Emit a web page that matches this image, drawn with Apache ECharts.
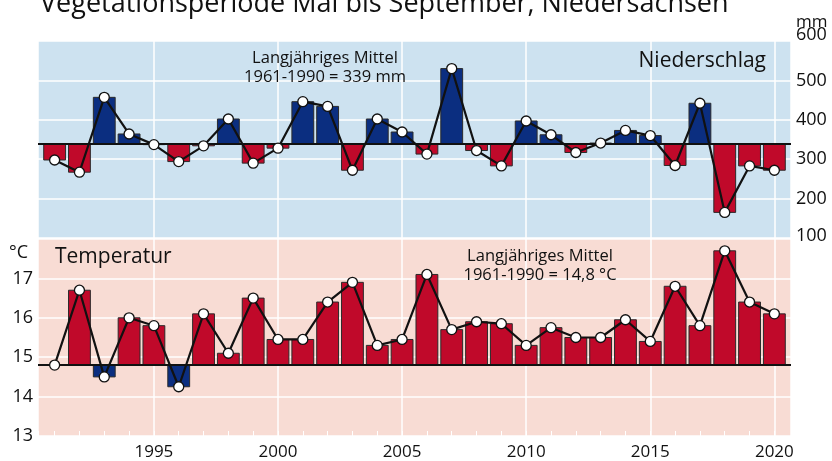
<!DOCTYPE html>
<html>
<head>
<meta charset="utf-8">
<script src="https://cdn.jsdelivr.net/npm/echarts@6/dist/echarts.min.js"></script>
<style>
  html, body { margin: 0; padding: 0; background: #ffffff; }
  #chart { width: 832px; height: 461px; }
</style>
</head>
<body>
<div id="chart"></div>
<script>
// Vegetation period (May to September), Lower Saxony, 1991-2020
const years = [1991, 1992, 1993, 1994, 1995, 1996, 1997, 1998, 1999, 2000,
               2001, 2002, 2003, 2004, 2005, 2006, 2007, 2008, 2009, 2010,
               2011, 2012, 2013, 2014, 2015, 2016, 2017, 2018, 2019, 2020];

// Precipitation sum, mm
const precipitation = [298, 267, 457, 364, 337, 294, 334, 402, 290, 328,
                       446, 434, 272, 402, 369, 313, 530, 322, 283, 397,
                       362, 317, 341, 373, 360, 284, 442, 165, 283, 272];

// Mean air temperature, °C
const temperature = [14.8, 16.7, 14.5, 16.0, 15.8, 14.25, 16.1, 15.1, 16.5, 15.45,
                     15.45, 16.4, 16.9, 15.3, 15.45, 17.1, 15.7, 15.9, 15.85, 15.3,
                     15.75, 15.5, 15.5, 15.95, 15.4, 16.8, 15.8, 17.7, 16.4, 16.1];

// Long-term reference means 1961-1990
const precipitationMean = 339;
const temperatureMean = 14.8;

// Axis ticks
const precipitationTicks = [100, 200, 300, 400, 500, 600];
const temperatureTicks = [13, 14, 15, 16, 17];
const yearLabels = [1995, 2000, 2005, 2010, 2015, 2020];

const BLUE = '#0b2e80';
const RED = '#c0092a';
const FONT = '"Open Sans", "Noto Sans", sans-serif';

const chart = echarts.init(document.getElementById('chart'), null, { renderer: 'canvas' });

// Deviation bars drawn from the reference mean to each yearly value
function deviationBars(base, colorAbove, colorBelow) {
  return function (params, api) {
    const x = api.value(0);
    const v = api.value(1);
    const a = api.coord([x - 0.44, base]);
    const b = api.coord([x + 0.44, v]);
    return {
      type: 'rect',
      shape: {
        x: a[0],
        y: Math.min(a[1], b[1]),
        width: b[0] - a[0],
        height: Math.abs(b[1] - a[1])
      },
      style: {
        fill: v >= base ? colorAbove : colorBelow,
        stroke: '#2b2b2b',
        lineWidth: 1
      }
    };
  };
}

const pairs = (vals) => years.map((y, i) => [y, vals[i]]);

function xAxisFor(gridIndex, showLabels) {
  return {
    type: 'value',
    gridIndex: gridIndex,
    min: 1990.33,
    max: 2020.67,
    minInterval: 5,
    maxInterval: 5,
    axisLine: { show: false },
    axisTick: {
      show: showLabels,
      inside: true,
      length: 5,
      lineStyle: { color: '#ffffff', width: 1 }
    },
    minorTick: {
      show: showLabels,
      splitNumber: 5,
      length: 5,
      lineStyle: { color: '#ffffff', width: 1 }
    },
    axisLabel: {
      show: showLabels,
      showMinLabel: false,
      showMaxLabel: false,
      fontFamily: FONT,
      fontSize: 17,
      color: '#111111',
      margin: 8,
      formatter: (v) => (yearLabels.indexOf(Math.round(v)) >= 0 ? String(Math.round(v)) : '')
    },
    splitLine: { show: true, lineStyle: { color: '#ffffff', width: 1.5 } }
  };
}

const option = {
  animation: false,
  backgroundColor: '#ffffff',
  grid: [
    { left: 38, right: 41, top: 41, height: 197, show: true, backgroundColor: '#cde2f0', borderWidth: 0 },
    { left: 38, right: 41, top: 239, height: 199, show: true, backgroundColor: '#f8dcd4', borderWidth: 0 }
  ],
  xAxis: [xAxisFor(0, false), xAxisFor(1, true)],
  yAxis: [
    {
      type: 'value',
      gridIndex: 0,
      position: 'right',
      min: precipitationTicks[0],
      max: precipitationTicks[precipitationTicks.length - 1],
      interval: 100,
      axisLine: { show: false },
      axisTick: { show: false },
      axisLabel: {
        fontFamily: FONT,
        fontSize: 18,
        color: '#111111',
        margin: 5,
        formatter: (v) => (v === 600 ? '{hi|600}' : v === 100 ? '{lo|100}' : String(v)),
        rich: {
          hi: { fontFamily: FONT, fontSize: 18, color: '#111111', padding: [0, 0, 12, 0] },
          lo: { fontFamily: FONT, fontSize: 18, color: '#111111', padding: [0, 0, 5, 0] }
        }
      },
      splitLine: { show: true, lineStyle: { color: '#ffffff', width: 1.5 } }
    },
    {
      type: 'value',
      gridIndex: 1,
      position: 'left',
      min: 13,
      max: 18,
      interval: 1,
      axisLine: { show: false },
      axisTick: { show: false },
      axisLabel: {
        fontFamily: FONT,
        fontSize: 18,
        color: '#111111',
        margin: 5,
        showMaxLabel: false,
        formatter: (v) => (temperatureTicks.indexOf(v) >= 0 ? String(v) : '')
      },
      splitLine: { show: true, lineStyle: { color: '#ffffff', width: 1.5 } }
    }
  ],
  graphic: [
    { type: 'text', left: 40, top: -9, style: { text: 'Vegetationsperiode Mai bis September, Niedersachsen', font: '27px ' + FONT, fill: '#111111' } },
    { type: 'text', x: 796, y: 22, style: { text: 'mm', font: '17px ' + FONT, fill: '#111111', verticalAlign: 'middle' } },
    { type: 'text', x: 9, y: 253, style: { text: '°C', font: '18px ' + FONT, fill: '#111111', verticalAlign: 'middle' } },
    { type: 'text', x: 766, y: 61, z: 10, style: { text: 'Niederschlag', font: '21px ' + FONT, fill: '#111111', align: 'right', verticalAlign: 'middle' } },
    { type: 'text', x: 55, y: 257, z: 10, style: { text: 'Temperatur', font: '21px ' + FONT, fill: '#111111', verticalAlign: 'middle' } },
    { type: 'text', x: 325, y: 68, z: 10, style: { text: 'Langjähriges Mittel\n1961-1990 = ' + precipitationMean + ' mm', font: '16.5px ' + FONT, lineHeight: 19, fill: '#111111', align: 'center', verticalAlign: 'middle' } },
    { type: 'text', x: 540, y: 266, z: 10, style: { text: 'Langjähriges Mittel\n1961-1990 = ' + String(temperatureMean).replace('.', ',') + ' °C', font: '16.5px ' + FONT, lineHeight: 19, fill: '#111111', align: 'center', verticalAlign: 'middle' } }
  ],
  series: [
    {
      type: 'custom',
      xAxisIndex: 0,
      yAxisIndex: 0,
      data: pairs(precipitation),
      renderItem: deviationBars(precipitationMean, BLUE, RED),
      z: 2,
      markLine: {
        silent: true,
        symbol: 'none',
        z: 3,
        label: { show: false },
        lineStyle: { color: '#111111', width: 2, type: 'solid' },
        data: [{ yAxis: precipitationMean }]
      }
    },
    {
      type: 'line',
      xAxisIndex: 0,
      yAxisIndex: 0,
      data: pairs(precipitation),
      z: 5,
      symbol: 'circle',
      symbolSize: 10,
      lineStyle: { color: '#111111', width: 2.2 },
      itemStyle: { color: '#ffffff', borderColor: '#111111', borderWidth: 1.3 }
    },
    {
      type: 'custom',
      xAxisIndex: 1,
      yAxisIndex: 1,
      data: pairs(temperature),
      renderItem: deviationBars(temperatureMean, RED, BLUE),
      z: 2,
      markLine: {
        silent: true,
        symbol: 'none',
        z: 3,
        label: { show: false },
        lineStyle: { color: '#111111', width: 2, type: 'solid' },
        data: [{ yAxis: temperatureMean }]
      }
    },
    {
      type: 'line',
      xAxisIndex: 1,
      yAxisIndex: 1,
      data: pairs(temperature),
      z: 5,
      symbol: 'circle',
      symbolSize: 10,
      lineStyle: { color: '#111111', width: 2.2 },
      itemStyle: { color: '#ffffff', borderColor: '#111111', borderWidth: 1.3 }
    }
  ]
};

chart.setOption(option);
</script>
</body>
</html>
